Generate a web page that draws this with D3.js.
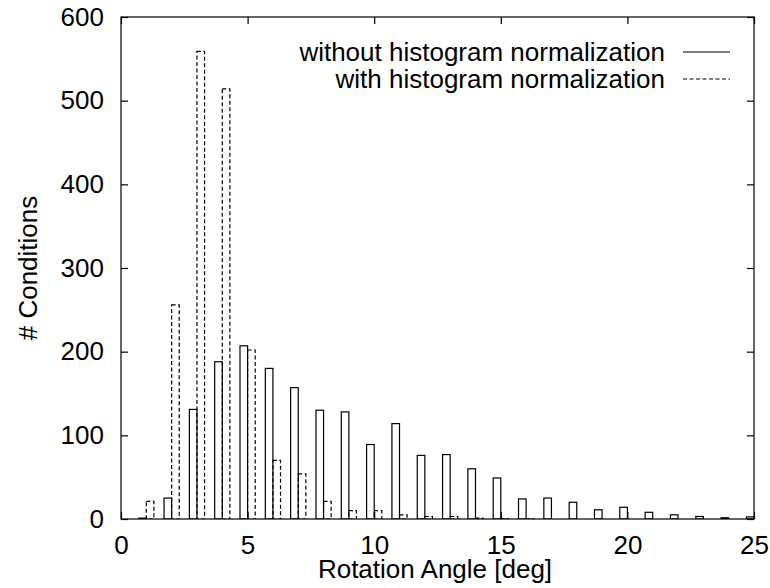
<!DOCTYPE html>
<html>
<head>
<meta charset="utf-8">
<script src="https://cdn.jsdelivr.net/npm/d3@7"></script>
<style>
  html, body { margin: 0; padding: 0; background: #fff; }
  svg { display: block; font-family: "Liberation Sans", Arial, Helvetica, sans-serif; }
</style>
</head>
<body>
<svg id="chart" width="770" height="588"></svg>
<script>
// Rotation angle bins (degrees)
const angles = [1, 2, 3, 4, 5, 6, 7, 8, 9, 10, 11, 12, 13, 14, 15, 16, 17, 18, 19, 20, 21, 22, 23, 24, 25];
// Number of conditions per bin, without histogram normalization
const withoutNorm = [1, 25, 131, 188, 207, 180, 157, 130, 128, 89, 114, 76, 77, 60, 49, 24, 25, 20, 11, 14, 8, 5, 3, 1.5, 2.5];
// Number of conditions per bin, with histogram normalization
const withNorm = [21, 256, 559, 514, 202, 70, 54, 21, 10, 10, 5, 3, 3, 1.2, 0.5, 0.3, 0, 0, 0, 0, 0, 0, 0, 0, 0];
const xTicks = [0, 5, 10, 15, 20, 25];
const yTicks = [0, 100, 200, 300, 400, 500, 600];
const seriesNames = ["without histogram normalization", "with histogram normalization"];

const barWidth = 0.3;
const fontSize = 26;

const svg = d3.select("#chart");
const plotLeft = 121, plotRight = 754, plotTop = 17, plotBottom = 519;

const x = d3.scaleLinear().domain([0, 25]).range([plotLeft, plotRight]);
const y = d3.scaleLinear().domain([0, 600]).range([plotBottom, plotTop]);

svg.append("defs").append("clipPath").attr("id", "plotClip")
  .append("rect").attr("x", plotLeft).attr("y", plotTop)
  .attr("width", plotRight - plotLeft).attr("height", plotBottom - plotTop);

const plot = svg.append("g").attr("clip-path", "url(#plotClip)");

// Solid bars sit just left of each bin value, dashed bars just right
const solid = angles.map((a, i) => ({ a, v: withoutNorm[i] })).filter(d => d.v > 0);
const dashed = angles.map((a, i) => ({ a, v: withNorm[i] })).filter(d => d.v > 0);

plot.selectAll("rect.solid").data(solid).join("rect")
  .attr("class", "solid")
  .attr("x", d => x(d.a - barWidth))
  .attr("y", d => y(d.v))
  .attr("width", d => x(d.a) - x(d.a - barWidth))
  .attr("height", d => y(0) - y(d.v))
  .attr("fill", "none")
  .attr("stroke", "#000")
  .attr("stroke-width", 1.2);

plot.selectAll("rect.dashed").data(dashed).join("rect")
  .attr("class", "dashed")
  .attr("x", d => x(d.a))
  .attr("y", d => y(d.v))
  .attr("width", d => x(d.a + barWidth) - x(d.a))
  .attr("height", d => y(0) - y(d.v))
  .attr("fill", "none")
  .attr("stroke", "#000")
  .attr("stroke-width", 1.2)
  .attr("stroke-dasharray", "4,2.5");

// Axes with inward ticks on all four sides
const tickLen = 7;
function styleAxis(g) {
  g.select(".domain").remove();
  g.selectAll(".tick line").attr("stroke", "#000").attr("stroke-width", 1.2);
  g.selectAll(".tick text").attr("fill", "#000").style("font-size", fontSize + "px")
    .style("font-family", "\"Liberation Sans\", Arial, sans-serif");
}

svg.append("g").attr("transform", `translate(0,${plotBottom})`)
  .call(d3.axisBottom(x).tickValues(xTicks).tickFormat(d3.format("d"))
    .tickSizeInner(-tickLen).tickSizeOuter(0).tickPadding(17))
  .call(styleAxis);

svg.append("g").attr("transform", `translate(0,${plotTop})`)
  .call(d3.axisTop(x).tickValues(xTicks).tickFormat("")
    .tickSizeInner(-tickLen).tickSizeOuter(0))
  .call(styleAxis);

svg.append("g").attr("transform", `translate(${plotLeft},0)`)
  .call(d3.axisLeft(y).tickValues(yTicks).tickFormat(d3.format("d"))
    .tickSizeInner(-tickLen).tickSizeOuter(0).tickPadding(17))
  .call(styleAxis);

svg.append("g").attr("transform", `translate(${plotRight},0)`)
  .call(d3.axisRight(y).tickValues(yTicks).tickFormat("")
    .tickSizeInner(-tickLen).tickSizeOuter(0))
  .call(styleAxis);

// Plot frame
svg.append("rect")
  .attr("x", plotLeft).attr("y", plotTop)
  .attr("width", plotRight - plotLeft).attr("height", plotBottom - plotTop)
  .attr("fill", "none").attr("stroke", "#000").attr("stroke-width", 1.2);

// Axis titles
svg.append("text")
  .attr("x", 435).attr("y", 578)
  .attr("text-anchor", "middle")
  .style("font-size", fontSize + "px")
  .text("Rotation Angle [deg]");

svg.append("text")
  .attr("transform", `translate(28,${(plotTop + plotBottom) / 2}) rotate(-90)`)
  .attr("text-anchor", "middle")
  .attr("dy", "0.35em")
  .style("font-size", fontSize + "px")
  .text("# Conditions");

// Legend
const legend = svg.append("g");
const legendRows = [52, 79];
seriesNames.forEach((name, i) => {
  legend.append("text")
    .attr("x", 665).attr("y", legendRows[i])
    .attr("dy", "0.35em")
    .attr("text-anchor", "end")
    .style("font-size", fontSize + "px")
    .text(name);
  legend.append("line")
    .attr("x1", 683).attr("x2", 730)
    .attr("y1", legendRows[i]).attr("y2", legendRows[i])
    .attr("stroke", "#000").attr("stroke-width", 1.2)
    .attr("stroke-dasharray", i === 1 ? "4,2.5" : null);
});
</script>
</body>
</html>
